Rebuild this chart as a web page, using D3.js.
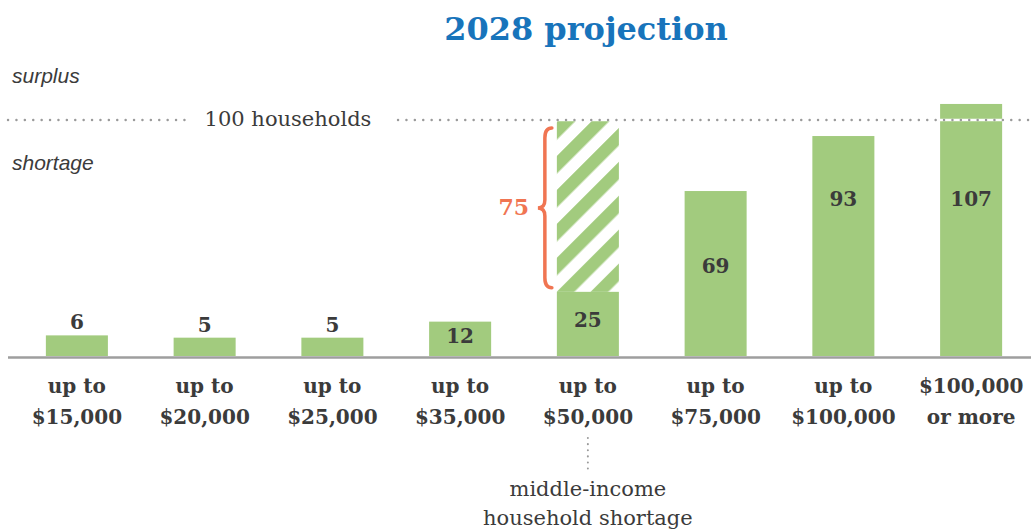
<!DOCTYPE html>
<html>
<head>
<meta charset="utf-8">
<script src="https://cdn.jsdelivr.net/npm/d3@7"></script>
<style>
  html, body { margin: 0; padding: 0; background: #fff; }
  svg { display: block; }
</style>
</head>
<body>
<svg id="chart" width="1031" height="529"></svg>
<script>
// ---- data ----
const categories = ["up to|$15,000", "up to|$20,000", "up to|$25,000", "up to|$35,000",
                    "up to|$50,000", "up to|$75,000", "up to|$100,000", "$100,000|or more"];
const values = [6, 5, 5, 12, 25, 69, 93, 107];
const referenceValue = 100;
const referenceLabel = "100 households";
const shortageCategory = "up to|$50,000";
const shortageValue = 75;
const titleText = "2028 projection";
const noteLines = ["middle-income", "household shortage"];

// ---- layout ----
const W = 1031, H = 529;
const svg = d3.select("#chart");
const green = "#a2cb7e", dark = "#3b3b3b", blue = "#1874bb", orange = "#f07552";
const slab = "'DejaVu Serif', serif";
const sans = "'Liberation Sans', Arial, sans-serif";

const x = d3.scaleBand().domain(categories).range([13, 1035])
  .paddingInner(0.5145).paddingOuter(0.2573);
const y = d3.scaleLinear().domain([-3, 100]).range([356, 120]);
const base = y.range()[0];

// hatch pattern
const defs = svg.append("defs");
const pat = defs.append("pattern").attr("id", "hatch")
  .attr("patternUnits", "userSpaceOnUse").attr("width", 24).attr("height", 24)
  .attr("patternTransform", "rotate(45)");
pat.append("rect").attr("width", 24).attr("height", 24).attr("fill", "#fff");
pat.append("rect").attr("x", 0).attr("width", 12.5).attr("height", 24).attr("fill", green);

// title
svg.append("text").attr("x", 586).attr("y", 40).attr("text-anchor", "middle")
  .attr("font-family", slab).attr("font-weight", "bold").attr("font-size", 32)
  .attr("fill", blue).text(titleText);

// surplus / shortage
svg.append("text").attr("x", 12).attr("y", 83).attr("font-family", sans)
  .attr("font-style", "italic").attr("font-size", 21).attr("fill", dark).text("surplus");
svg.append("text").attr("x", 12).attr("y", 170).attr("font-family", sans)
  .attr("font-style", "italic").attr("font-size", 21).attr("fill", dark).text("shortage");

// hatched shortage bar
svg.append("rect")
  .attr("x", x(shortageCategory)).attr("width", x.bandwidth())
  .attr("y", y(referenceValue))
  .attr("height", y(referenceValue - shortageValue) - y(referenceValue))
  .attr("fill", "url(#hatch)");

// bars
svg.append("g").selectAll("rect").data(categories).join("rect")
  .attr("x", d => x(d)).attr("width", x.bandwidth())
  .attr("y", (d, i) => y(values[i]))
  .attr("height", (d, i) => base - y(values[i]))
  .attr("fill", green);

// reference line
const refY = y(referenceValue);
svg.append("line").attr("x1", 8).attr("x2", W).attr("y1", refY).attr("y2", refY)
  .attr("stroke", "#fff").attr("stroke-width", 2.5);
[[8, 186], [398, W]].forEach(([a, b]) => {
  svg.append("line").attr("x1", a).attr("x2", b).attr("y1", refY).attr("y2", refY)
    .attr("stroke", "#9a9a9a").attr("stroke-width", 2.4)
    .attr("stroke-linecap", "round").attr("stroke-dasharray", "0.1 8.3");
});
svg.append("text").attr("x", 288).attr("y", refY + 6).attr("text-anchor", "middle")
  .attr("font-family", slab).attr("font-size", 21).attr("fill", dark)
  .text(referenceLabel);

// axis baseline
svg.append("line").attr("x1", 8).attr("x2", W).attr("y1", base + 1.5).attr("y2", base + 1.5)
  .attr("stroke", "#9e9e9e").attr("stroke-width", 2.5);

// value labels
function labelY(v) {
  if (v < 10) return y(v) - 6;
  if (v < 20) return y(v) + 21;
  if (v < 40) return y(v) + 35;
  if (v < 80) return y(v) + 82;
  return y(referenceValue) + 86;
}
svg.append("g").selectAll("text").data(categories).join("text")
  .attr("x", d => x(d) + x.bandwidth() / 2)
  .attr("y", (d, i) => labelY(values[i]))
  .attr("text-anchor", "middle").attr("font-family", slab)
  .attr("font-weight", "bold").attr("font-size", 20).attr("fill", dark)
  .text((d, i) => values[i]);

// category labels
const cat = svg.append("g").selectAll("text").data(categories).join("text")
  .attr("x", d => x(d) + x.bandwidth() / 2).attr("y", 393)
  .attr("text-anchor", "middle").attr("font-family", slab)
  .attr("font-weight", "bold").attr("font-size", 20).attr("fill", dark);
cat.selectAll("tspan").data(d => d.split("|").map(s => [d, s])).join("tspan")
  .attr("x", d => x(d[0]) + x.bandwidth() / 2)
  .attr("dy", (d, i) => i === 0 ? 0 : 31)
  .text(d => d[1]);

// brace + 75
const bx = x(shortageCategory) - 5;
const by1 = y(referenceValue) + 8, by2 = y(referenceValue - shortageValue) - 4;
const bm = (by1 + by2) / 2, bw = 14;
const bracePath = `M${bx},${by1} Q${bx - bw / 2},${by1} ${bx - bw / 2},${by1 + 10}
  L${bx - bw / 2},${bm - 8} Q${bx - bw / 2},${bm} ${bx - bw},${bm}
  Q${bx - bw / 2},${bm} ${bx - bw / 2},${bm + 8}
  L${bx - bw / 2},${by2 - 10} Q${bx - bw / 2},${by2} ${bx},${by2}`;
svg.append("path").attr("d", bracePath).attr("fill", "none")
  .attr("stroke", orange).attr("stroke-width", 3.5).attr("stroke-linecap", "round");
svg.append("text").attr("x", bx - bw - 24).attr("y", bm + 7).attr("text-anchor", "middle")
  .attr("font-family", slab).attr("font-weight", "bold").attr("font-size", 22)
  .attr("fill", orange).text(shortageValue);

// note below
const nx = x(shortageCategory) + x.bandwidth() / 2;
svg.append("line").attr("x1", nx).attr("x2", nx).attr("y1", 438).attr("y2", 470)
  .attr("stroke", "#9a9a9a").attr("stroke-width", 2).attr("stroke-linecap", "round")
  .attr("stroke-dasharray", "0.1 6");
noteLines.forEach((t, i) => {
  svg.append("text").attr("x", nx).attr("y", 496 + i * 29).attr("text-anchor", "middle")
    .attr("font-family", slab).attr("font-size", 21).attr("fill", dark).text(t);
});
</script>
</body>
</html>
